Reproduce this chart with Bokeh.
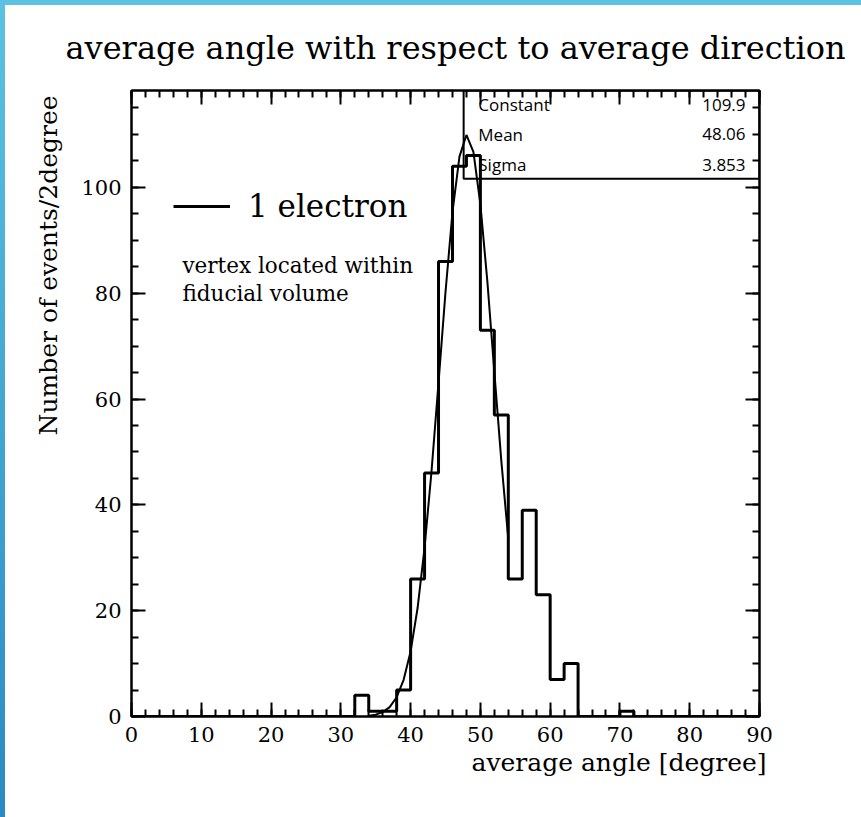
from bokeh.plotting import figure
from bokeh.models import (Range1d, LinearAxis, SingleIntervalTicker, Label, Title,
                          BoxAnnotation, Legend, LegendItem, CustomJSTickFormatter)
from bokeh.embed import file_html
from bokeh.resources import INLINE

# ---- data ----
bin_edges = [0, 2, 4, 6, 8, 10, 12, 14, 16, 18, 20, 22, 24, 26, 28, 30, 32, 34, 36, 38,
             40, 42, 44, 46, 48, 50, 52, 54, 56, 58, 60, 62, 64, 66, 68, 70, 72, 74, 76,
             78, 80, 82, 84, 86, 88, 90]
counts = [0, 0, 0, 0, 0, 0, 0, 0, 0, 0, 0, 0, 0, 0, 0, 0,
          4, 1, 1, 5, 26, 46, 86, 104, 106, 73, 57, 26, 39, 23, 7, 10,
          0, 0, 0, 1, 0, 0, 0, 0, 0, 0, 0, 0, 0]
fit_x = [34, 35, 36, 37, 38, 39, 40, 41, 42, 43, 44, 45, 46, 47, 48, 49, 50, 51, 52, 53, 54]
fit_y = [0.14, 0.35, 0.82, 1.78, 3.64, 6.93, 12.3, 20.5, 31.9, 46.4, 63.1, 80.2, 95.3,
         105.8, 109.9, 106.7, 96.8, 82.2, 65.1, 48.3, 33.5]
stat_names = ["Constant", "Mean", "Sigma"]
stat_values = ["109.9", "48.06", "3.853"]
x_ticks_major = 10
y_ticks_major = 20

SERIF = "DejaVu Serif"
SANS = "Open Sans"

p = figure(width=861, height=817, output_backend="svg", toolbar_location=None,
           x_range=Range1d(0, 90), y_range=Range1d(0, 118.3),
           x_axis_location=None, y_axis_location=None,
           min_border_left=131, min_border_right=102, min_border_top=90, min_border_bottom=101)
p.grid.grid_line_color = None
p.border_fill_color = None
p.background_fill_color = "white"
p.outline_line_color = "black"
p.outline_line_width = 2
p.styles = {"background": "linear-gradient(#5bc2e2,#5bc2e2) left top / 100% 5px no-repeat, "
                          "linear-gradient(to bottom,#5bc2e2,#2a8bc2) left top / 5px 100% no-repeat, #ffffff"}

def make_axis(ticker, labels):
    ax = LinearAxis(ticker=ticker, major_tick_in=14, major_tick_out=0,
                    minor_tick_in=7, minor_tick_out=0,
                    axis_line_width=2, major_tick_line_width=2, minor_tick_line_width=2,
                    major_label_text_font=SERIF, major_label_text_font_size="21px",
                    major_label_text_color="black")
    if not labels:
        ax.formatter = CustomJSTickFormatter(code="return ''")
        ax.major_label_standoff = 0
    return ax

xb = make_axis(SingleIntervalTicker(interval=x_ticks_major, num_minor_ticks=5), True)
xb.major_label_standoff = 10
xt = make_axis(SingleIntervalTicker(interval=x_ticks_major, num_minor_ticks=5), False)
yl = make_axis(SingleIntervalTicker(interval=y_ticks_major, num_minor_ticks=4), True)
yl.major_label_standoff = 10
yr = make_axis(SingleIntervalTicker(interval=y_ticks_major, num_minor_ticks=4), False)
p.add_layout(xb, "below")
p.add_layout(xt, "above")
p.add_layout(yl, "left")
p.add_layout(yr, "right")

# histogram outline
step_y = counts + [counts[-1]]
hist_r = p.step(x=bin_edges, y=step_y, mode="after", line_color="black", line_width=3)
# gaussian fit
p.line(x=fit_x, y=fit_y, line_color="black", line_width=2)

# legend
legend = Legend(items=[LegendItem(label="1 electron", renderers=[hist_r])],
                location=(42, 492), background_fill_alpha=0, border_line_color=None,
                padding=0, margin=0, spacing=0, glyph_width=57, glyph_height=30,
                label_standoff=18, label_height=30,
                label_text_font=SERIF, label_text_font_size="31px", label_text_color="black")
p.add_layout(legend)

# stats box
p.add_layout(BoxAnnotation(left=47.6, bottom=101.6, fill_alpha=0,
                           line_color="black", line_alpha=1.0, line_width=2))
stat_y = [115.6, 110.0, 104.3]
for name, val, yy in zip(stat_names, stat_values, stat_y):
    p.add_layout(Label(x=49.7, y=yy, text=name, text_align="left", text_baseline="middle",
                       text_font=SANS, text_font_size="17px", text_color="black"))
    p.add_layout(Label(x=88.0, y=yy, text=val, text_align="right", text_baseline="middle",
                       text_font=SANS, text_font_size="17px", text_color="black"))

# notes
p.add_layout(Label(x=7.3, y=85.2, text="vertex located within", text_baseline="middle",
                   text_font=SERIF, text_font_size="21.5px", text_color="black"))
p.add_layout(Label(x=7.3, y=79.9, text="fiducial volume", text_baseline="middle",
                   text_font=SERIF, text_font_size="21.5px", text_color="black"))

# titles
p.title.text = "average angle with respect to average direction"
p.title.text_font = SERIF
p.title.text_font_style = "normal"
p.title.text_font_size = "32px"
p.title.text_color = "black"
p.title.align = "left"
p.title.offset = -66
p.title.standoff = 47

p.add_layout(Title(text="average angle [degree]", align="right", offset=-7,
                   text_font=SERIF, text_font_style="normal", text_font_size="25px",
                   text_color="black", standoff=2), "below")
p.add_layout(Title(text="Number of events/2degree", align="right", offset=5,
                   text_font=SERIF, text_font_style="normal", text_font_size="25px",
                   text_color="black", standoff=31), "left")

open("out.html", "w").write(file_html(p, INLINE))
